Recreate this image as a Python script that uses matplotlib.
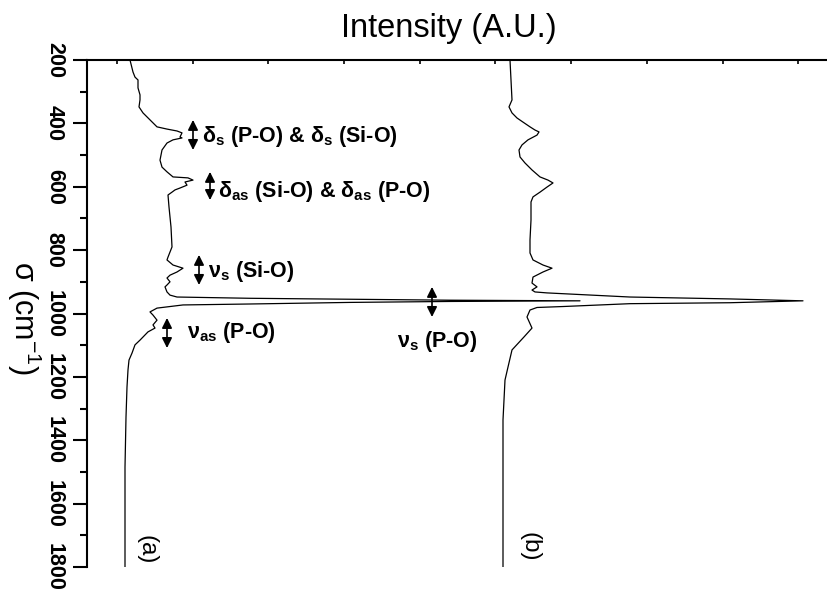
import numpy as np
import matplotlib
matplotlib.use("Agg")
import matplotlib.pyplot as plt
from matplotlib.ticker import MultipleLocator

# Raman spectra (rotated plot): wavenumber (cm-1) vs intensity (A.U.)
wn_a = [200, 238, 254, 263, 288, 310, 326, 348, 367, 389, 411, 418, 424, 430, 443, 446,
        452, 462, 484, 516, 538, 553, 569, 572, 579, 585, 595, 604, 610, 617, 626, 664,
        727, 790, 822, 831, 847, 857, 869, 879, 888, 900, 910, 916, 932, 942, 948, 952,
        955, 958, 960, 962, 965, 970, 973, 983, 995, 1005, 1021, 1036, 1046, 1058, 1084,
        1099, 1125, 1147, 1178, 1232, 1327, 1485, 1643, 1800]
int_a = [43, 46, 48, 51, 51, 53, 53, 52, 56, 63, 70, 80, 90, 95, 93, 95,
         86, 80, 75, 73, 75, 80, 86, 101, 106, 98, 100, 93, 88, 85, 81, 82,
         84, 85, 81, 80, 86, 96, 90, 83, 80, 83, 80, 78, 80, 83, 90, 163,
         263, 363, 493, 363, 263, 163, 96, 70, 63, 66, 70, 66, 68, 61, 53,
         48, 45, 42, 41, 40, 39, 38, 38, 38]

wn_b = [200, 263, 326, 348, 367, 383, 396, 411, 421, 427, 437, 452, 468, 484, 506, 525,
        547, 569, 579, 588, 601, 617, 632, 648, 705, 768, 809, 831, 847, 857, 869, 885,
        904, 916, 926, 932, 935, 948, 954, 960, 966, 969, 978, 981, 989, 1011, 1046,
        1074, 1115, 1169, 1210, 1336, 1525, 1800]
int_b = [423, 424, 425, 422, 425, 430, 436, 443, 448, 452, 450, 441, 435, 432, 433, 438,
         445, 453, 461, 466, 460, 453, 446, 444, 444, 443, 443, 446, 456, 465, 456, 446,
         445, 450, 445, 448, 460, 543, 643, 716, 643, 543, 476, 450, 443, 440, 445,
         437, 425, 421, 418, 416, 416, 416]

band_labels = [r"$\delta_s$ (P-O) & $\delta_s$ (Si-O)",
               r"$\delta_{as}$ (Si-O) & $\delta_{as}$ (P-O)",
               r"$\nu_s$ (Si-O)",
               r"$\nu_{as}$ (P-O)",
               r"$\nu_s$ (P-O)"]
# arrow x, arrow top / bottom (cm-1), text x, text baseline (cm-1)
arrow_x = [106, 123, 112, 80, 345]
arrow_top = [389, 553, 815, 1014, 916]
arrow_bot = [484, 642, 910, 1109, 1011]
text_x = [115, 131, 121, 100, 310]
text_y = [459, 632, 885, 1077, 1106]

plt.rcParams['font.family'] = ['Liberation Sans', 'DejaVu Sans']
plt.rcParams['mathtext.default'] = 'regular'

fig = plt.figure(figsize=(8.28, 5.95), dpi=100)
ax = fig.add_axes([87 / 828, 1 - 567 / 595, 741 / 828, 507 / 595])

ax.plot(int_a, wn_a, color='black', lw=0.9)
ax.plot(int_b, wn_b, color='black', lw=0.9)

ax.set_xlim(0, 741)
ax.set_ylim(1800, 200)

ax.spines['bottom'].set_visible(False)
ax.spines['right'].set_visible(False)
ax.spines['top'].set_linewidth(1.5)
ax.spines['left'].set_linewidth(1.5)

ax.xaxis.tick_top()
ax.xaxis.set_major_locator(MultipleLocator(75.7, offset=30))
ax.tick_params(axis='x', direction='in', length=3, width=1.2, labeltop=False, labelbottom=False)

ax.set_yticks(range(200, 1801, 200))
ax.yaxis.set_minor_locator(MultipleLocator(100))
ax.tick_params(axis='y', which='major', direction='out', length=10, width=1.5, pad=6)
ax.tick_params(axis='y', which='minor', direction='out', length=5, width=1.5)
for lab in ax.get_yticklabels():
    lab.set_rotation(270)
    lab.set_fontsize(15.5)
    lab.set_fontweight('bold')
    lab.set_va('center')

for i in range(len(band_labels)):
    ax.annotate('', xy=(arrow_x[i], arrow_top[i]), xytext=(arrow_x[i], arrow_bot[i]),
                arrowprops=dict(arrowstyle='<|-|>', color='black', lw=1.2,
                                mutation_scale=15, shrinkA=0, shrinkB=0))
    ax.text(text_x[i], text_y[i], band_labels[i], fontsize=15.5, fontweight='bold',
            ha='left', va='baseline')

ax.text(60, 1745, '(a)', rotation=270, fontsize=17.5, ha='center', va='center')
ax.text(443, 1737, '(b)', rotation=270, fontsize=17.5, ha='center', va='center')

fig.text(449 / 828, 1 - 28 / 595, 'Intensity (A.U.)', fontsize=23.5, ha='center', va='center')
fig.text(24 / 828, 1 - 318 / 595, r'σ (cm$^{-1}$)', fontsize=22, rotation=270,
         ha='center', va='center')

fig.savefig('out.png', dpi=100)
